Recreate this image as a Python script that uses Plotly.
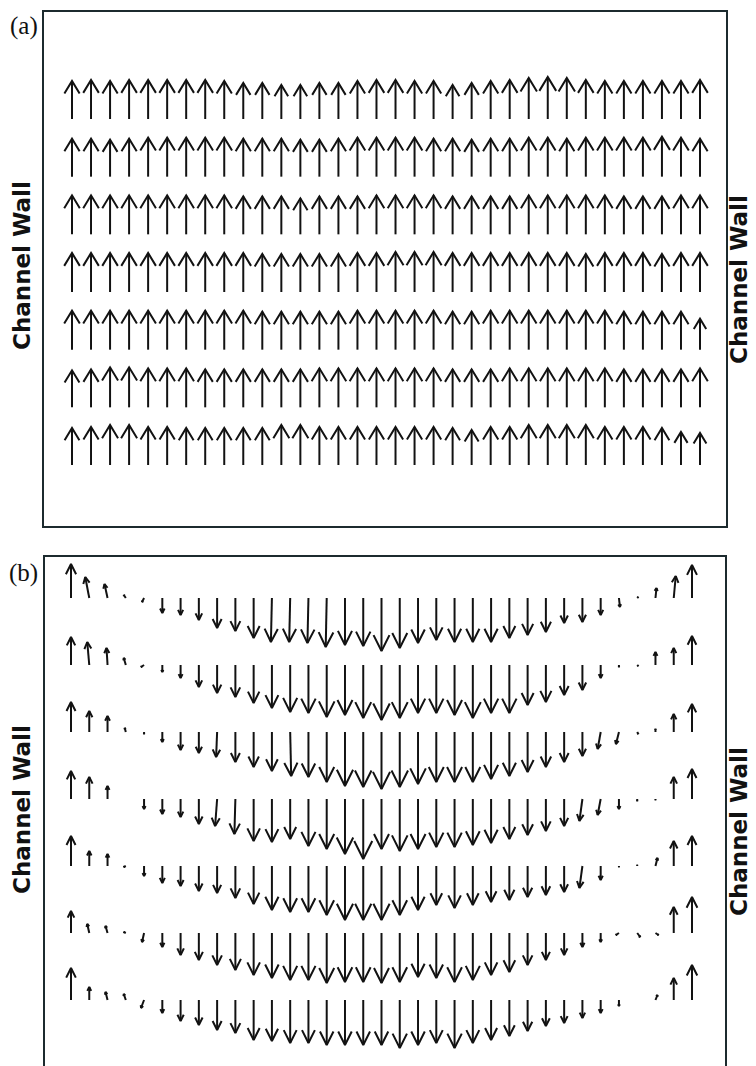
import plotly.graph_objects as go

# ---------------- data ----------------
# Panel (a): 7 rows (top -> bottom) x 34 columns, vertical velocity (all upward)
COLS_A = list(range(1, 35))
ROWS_A = [7, 6, 5, 4, 3, 2, 1]
V_A = [
    [38, 39, 38, 39, 39, 39, 39, 39, 38, 36, 36, 34, 34, 36, 36, 38, 39, 39, 38, 38, 34, 36, 38, 39, 41, 42, 41, 39, 38, 38, 38, 38, 38, 39],
    [38, 38, 37, 38, 39, 39, 39, 39, 39, 38, 38, 38, 37, 37, 38, 39, 39, 39, 39, 38, 38, 37, 38, 38, 39, 39, 38, 39, 39, 39, 39, 40, 39, 38],
    [39, 39, 39, 39, 39, 39, 39, 39, 39, 38, 38, 38, 36, 38, 38, 38, 39, 39, 39, 39, 38, 38, 38, 38, 39, 39, 39, 39, 39, 38, 38, 38, 39, 39],
    [39, 39, 39, 39, 39, 39, 39, 39, 39, 39, 38, 38, 38, 38, 38, 39, 39, 40, 40, 40, 39, 39, 39, 39, 39, 39, 39, 38, 39, 39, 39, 38, 39, 39],
    [39, 39, 39, 39, 39, 39, 39, 39, 39, 39, 38, 38, 38, 38, 38, 39, 39, 39, 39, 39, 38, 38, 39, 39, 39, 39, 39, 39, 39, 38, 38, 38, 38, 31],
    [37, 38, 40, 40, 39, 39, 39, 38, 38, 38, 38, 38, 38, 39, 39, 39, 39, 39, 39, 39, 38, 38, 38, 39, 39, 39, 39, 39, 39, 38, 38, 38, 38, 39],
    [37, 38, 40, 40, 38, 38, 37, 37, 37, 37, 37, 40, 40, 38, 38, 38, 38, 38, 38, 38, 37, 35, 38, 38, 40, 40, 40, 40, 38, 38, 38, 37, 33, 32],
]

# Panel (b): 7 rows (top -> bottom) x 35 columns
COLS_B = list(range(1, 36))
ROWS_B = [7, 6, 5, 4, 3, 2, 1]
V_B = [
    [34, 21, 14, 3, -4, -15, -17, -22, -30, -33, -40, -44, -44, -45, -49, -47, -48, -53, -50, -45, -42, -44, -44, -44, -40, -37, -34, -25, -24, -17, -9, 1, 10, 22, 33],
    [28, 23, 17, 7, -2, -7, -13, -22, -28, -32, -38, -43, -47, -48, -52, -50, -53, -55, -53, -48, -48, -50, -53, -48, -48, -40, -37, -30, -25, -13, -2, -1, 13, 17, 29],
    [30, 21, 16, 4, -2, -10, -18, -21, -25, -30, -35, -39, -44, -45, -50, -54, -55, -57, -55, -52, -50, -50, -50, -47, -44, -40, -35, -30, -24, -17, -12, -2, 3, 18, 28],
    [28, 22, 13, 0, -10, -15, -18, -25, -27, -35, -42, -43, -40, -47, -50, -55, -60, -50, -52, -50, -48, -48, -46, -44, -40, -36, -32, -27, -22, -16, -10, -2, -1, 22, 30],
    [30, 15, 12, -1, -10, -17, -20, -25, -27, -32, -38, -44, -46, -46, -49, -54, -54, -54, -49, -44, -39, -42, -39, -36, -34, -31, -29, -26, -22, -14, -1, 1, 8, 25, 30],
    [22, 9, 7, 1, -9, -14, -22, -27, -32, -37, -42, -45, -47, -47, -50, -49, -49, -50, -49, -44, -45, -49, -47, -42, -39, -32, -27, -22, -14, -9, -2, -4, -2, 26, 36],
    [32, 13, 8, 6, -8, -13, -21, -25, -30, -33, -40, -41, -43, -43, -45, -45, -45, -45, -48, -45, -43, -48, -43, -40, -36, -31, -26, -23, -18, -13, -6, 0, 5, 22, 35],
]
U_B = [
    [0, -4, -3, -2, -2, 0, 0, 0, 0, 0, 0, -1, -1, -1, -1, 0, 0, 0, 0, 0, 0, 0, 0, 0, 0, 0, 0, 0, 0, 0, 1, 1, 1, 2, 0],
    [0, -2, -1, -2, -3, 0, 0, 0, 0, 0, 0, 0, 0, 0, 0, 0, 0, 0, 0, 0, 0, 0, 0, 0, 0, 0, 0, 0, 0, 0, 0, 1, 0, 0, 0],
    [0, 0, 0, -1, 0, 0, 0, 0, -1, 0, 0, 0, 1, 0, 0, 0, 0, 0, 0, 0, 0, 0, 0, 0, 0, 0, 0, 0, 0, -3, -3, 1, 0, 0, 0],
    [0, 0, 0, 0, 0, 0, 0, 0, -2, -1, 0, 0, 0, 0, 0, 0, 0, 0, 0, 0, 0, 0, 0, 0, 0, 0, 0, 0, -3, -3, 0, 0, 0, 0, 0],
    [0, 0, 0, -2, 0, 0, 0, 0, 0, 0, 0, 0, 0, 0, 0, 0, 0, 0, 0, 0, 0, 0, 0, 0, 0, 0, 0, 0, -3, 0, 0, 0, 2, 0, 0],
    [0, -2, -2, -2, -2, 0, 0, 0, 0, 0, 0, 0, 0, 0, 0, 0, 0, 0, 0, 0, 0, 0, 0, 0, 0, 0, 0, 0, 0, 0, -3, 3, 3, 0, 0],
    [0, 0, -2, -2, -3, 0, 0, 0, 0, 0, 0, 0, 0, 0, 0, 0, 0, 0, 0, 0, 0, 0, 0, 0, 0, 0, 0, 0, 0, 0, 0, 0, 2, 0, 0],
]

PANEL_LABELS = ["(a)", "(b)"]
WALL_LABEL = "Channel Wall"

# ---------------- layout constants (window pixels) ----------------
WIN_W, WIN_H = 756, 1066
OFF = 8                      # default page (body) margin of the html page
W, H = WIN_W - OFF, WIN_H - OFF
# panel a frame & grid
A_LEFT, A_RIGHT, A_TOP, A_BOT = 44, 726, 12, 526
A_X1, A_XN = 72, 700
A_Y_TOP, A_Y_BOT = 119, 465
# panel b frame & grid
B_LEFT, B_RIGHT, B_TOP, B_BOT = 45, 725, 557, 1066
B_X1, B_XN = 71, 692
B_Y_TOP, B_Y_BOT = 598, 1000


def px(xw):
    return (xw - OFF) / W


def py(yw):
    return 1 - (yw - OFF) / H


def quiver_xy(cols, rows, U, V, sx, sy, head_len, head_w):
    xs, ys = [], []
    for ri, r in enumerate(rows):
        for ci, c in enumerate(cols):
            u = U[ri][ci] if U is not None else 0.0
            v = V[ri][ci]
            L = (u * u + v * v) ** 0.5
            if L < 0.5:
                continue
            dx, dy = u / L, v / L
            nx, ny = -dy, dx
            hl, hw = head_len * L, head_w * L
            b1 = (u - hl * dx + hw * nx, v - hl * dy + hw * ny)
            b2 = (u - hl * dx - hw * nx, v - hl * dy - hw * ny)
            for seg in ([(0, 0), (u, v)], [b1, (u, v), b2]):
                for (qx, qy) in seg:
                    xs.append(c + qx / sx)
                    ys.append(r + qy / sy)
                xs.append(None)
                ys.append(None)
    return xs, ys


sxa = (A_XN - A_X1) / (len(COLS_A) - 1)
sya = (A_Y_BOT - A_Y_TOP) / (len(ROWS_A) - 1)
sxb = (B_XN - B_X1) / (len(COLS_B) - 1)
syb = (B_Y_BOT - B_Y_TOP) / (len(ROWS_B) - 1)

xa, ya = quiver_xy(COLS_A, ROWS_A, None, V_A, sxa, sya, 0.33, 0.2)
xb, yb = quiver_xy(COLS_B, ROWS_B, U_B, V_B, sxb, syb, 0.30, 0.15)

line_style = dict(color="#121212", width=2)

fig = go.Figure()
fig.add_trace(go.Scatter(x=xa, y=ya, mode="lines", line=line_style,
                         xaxis="x", yaxis="y", hoverinfo="skip", showlegend=False))
fig.add_trace(go.Scatter(x=xb, y=yb, mode="lines", line=line_style,
                         xaxis="x2", yaxis="y2", hoverinfo="skip", showlegend=False))

frame = "#1c2a2e"
ax_common = dict(showgrid=False, zeroline=False, showticklabels=False, ticks="",
                 showline=True, linecolor=frame, linewidth=2, fixedrange=True)

fig.update_layout(
    width=W, height=H, autosize=False,
    margin=dict(l=0, r=0, t=0, b=0),
    paper_bgcolor="white", plot_bgcolor="white",
    xaxis=dict(domain=[px(A_LEFT), px(A_RIGHT)],
               range=[COLS_A[0] - (A_X1 - A_LEFT) / sxa, COLS_A[-1] + (A_RIGHT - A_XN) / sxa],
               mirror=True, anchor="y", **ax_common),
    yaxis=dict(domain=[py(A_BOT), py(A_TOP)],
               range=[ROWS_A[-1] - (A_BOT - A_Y_BOT) / sya, ROWS_A[0] + (A_Y_TOP - A_TOP) / sya],
               mirror=True, anchor="x", **ax_common),
    xaxis2=dict(domain=[px(B_LEFT), px(B_RIGHT)],
                range=[COLS_B[0] - (B_X1 - B_LEFT) / sxb, COLS_B[-1] + (B_RIGHT - B_XN) / sxb],
                side="top", mirror=False, anchor="y2", **ax_common),
    yaxis2=dict(domain=[max(0.0, py(B_BOT)), py(B_TOP)],
                range=[ROWS_B[-1] - (B_BOT - B_Y_BOT) / syb, ROWS_B[0] + (B_Y_TOP - B_TOP) / syb],
                mirror=True, anchor="x2", **ax_common),
)

wall_font = dict(family="DejaVu Sans", size=23, color="#111111")
label_font = dict(family="Liberation Serif", size=25, color="#111111")

annos = [
    dict(text=PANEL_LABELS[0], x=px(24), y=py(26), font=label_font),
    dict(text=PANEL_LABELS[1], x=px(24), y=py(573), font=label_font),
    dict(text="<b>" + WALL_LABEL + "</b>", x=px(22), y=py(266), textangle=-90, font=wall_font),
    dict(text="<b>" + WALL_LABEL + "</b>", x=px(739), y=py(280), textangle=-90, font=wall_font),
    dict(text="<b>" + WALL_LABEL + "</b>", x=px(22), y=py(810), textangle=-90, font=wall_font),
    dict(text="<b>" + WALL_LABEL + "</b>", x=px(739), y=py(832), textangle=-90, font=wall_font),
]
for a in annos:
    fig.add_annotation(xref="paper", yref="paper", showarrow=False,
                       xanchor="center", yanchor="middle", **a)

fig.write_html("out.html")
